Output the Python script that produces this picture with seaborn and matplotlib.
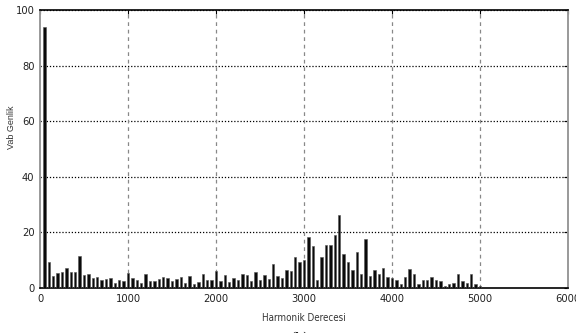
import numpy as np
import pandas as pd
import matplotlib
matplotlib.use("Agg")
import matplotlib.pyplot as plt
import seaborn as sns

# Harmonic spectrum of the line voltage Vab
harmonic_order = np.arange(50, 5001, 50)
amplitude = [
    94.0, 9.2, 4.4, 5.3, 5.6, 7.2, 5.6, 5.6, 11.6, 4.6,
    4.9, 3.7, 4.1, 2.9, 3.2, 3.7, 1.8, 2.8, 2.5, 5.4,
    3.7, 2.9, 1.8, 4.9, 2.5, 2.5, 3.2, 4.1, 3.7, 2.5,
    3.2, 4.1, 1.8, 4.4, 1.3, 2.3, 4.9, 2.8, 2.9, 6.0,
    2.5, 4.8, 2.0, 3.6, 2.9, 5.2, 4.8, 2.5, 5.6, 2.9,
    4.8, 3.2, 8.8, 4.2, 3.7, 6.4, 6.1, 11.1, 9.5, 10.1,
    18.2, 15.0, 2.9, 11.1, 15.5, 15.5, 19.0, 26.1, 12.4, 9.3,
    6.4, 13.1, 5.2, 17.7, 4.4, 6.4, 4.9, 7.3, 4.0, 3.7,
    2.9, 1.3, 4.1, 6.8, 4.9, 1.3, 2.9, 2.9, 4.1, 2.9,
    2.5, 0.8, 1.3, 1.8, 4.9, 2.5, 1.8, 4.9, 1.3, 0.8,
]
x_ticks = [0, 1000, 2000, 3000, 4000, 5000, 6000]
y_ticks = [0, 20, 40, 60, 80, 100]

df = pd.DataFrame({"order": harmonic_order, "amp": amplitude})

sns.set_style("white")
narrow = ["DejaVu Sans", "Liberation Sans"]
plt.rcParams["font.family"] = narrow
plt.rcParams["font.stretch"] = "condensed"

fig = plt.figure(figsize=(5.76, 3.33), dpi=100)
ax = fig.add_axes([40 / 576, 1 - 288 / 333, 528 / 576, 278 / 333])

sns.barplot(data=df, x="order", y="amp", native_scale=True, width=0.55,
            color="#0a0a0a", saturation=1, edgecolor="#555555", linewidth=0.4,
            errorbar=None, ax=ax, zorder=3)

ax.set_xlim(0, 6000)
ax.set_ylim(0, 100)
ax.set_xticks(x_ticks)
ax.set_yticks(y_ticks)
ax.set_xticklabels([str(t) for t in x_ticks])
ax.set_yticklabels([str(t) for t in y_ticks])

# MATLAB-like grid: dotted black horizontals, dashed grey verticals
for yv in y_ticks[1:]:
    ax.axhline(yv, color="black", lw=0.9, ls=(0, (1, 1.5)), zorder=1)
for xv in x_ticks[1:-1]:
    ax.axvline(xv, color="#888888", lw=0.9, ls=(0, (3, 3)), zorder=1)

for side in ["left", "right"]:
    ax.spines[side].set_color("#999999")
    ax.spines[side].set_linewidth(1.4)
for side in ["top", "bottom"]:
    ax.spines[side].set_color("black")
    ax.spines[side].set_linewidth(1.2)

ax.tick_params(direction="in", length=3, width=0.8, colors="black",
               labelsize=8, top=True, right=True, pad=4)
for lab in ax.get_xticklabels() + ax.get_yticklabels():
    lab.set_color("#222222")

ax.set_xlabel("")
ax.set_ylabel("")
fig.text(304 / 576, 1 - 318 / 333, "Harmonik Derecesi", ha="center", va="center",
         fontsize=7, color="#333333")
fig.text(12 / 576, 1 - 127 / 333, "Vab Genlik", ha="center", va="center",
         rotation=90, fontsize=6.5, color="#333333", stretch="normal",
         family=["Liberation Sans", "DejaVu Sans"])
fig.text(300 / 576, 1 - 338 / 333, "(b)", ha="center", va="center",
         fontsize=11, fontweight="bold", stretch="normal",
         family=["Liberation Serif", "DejaVu Serif"])

fig.savefig("out.png", dpi=100)
